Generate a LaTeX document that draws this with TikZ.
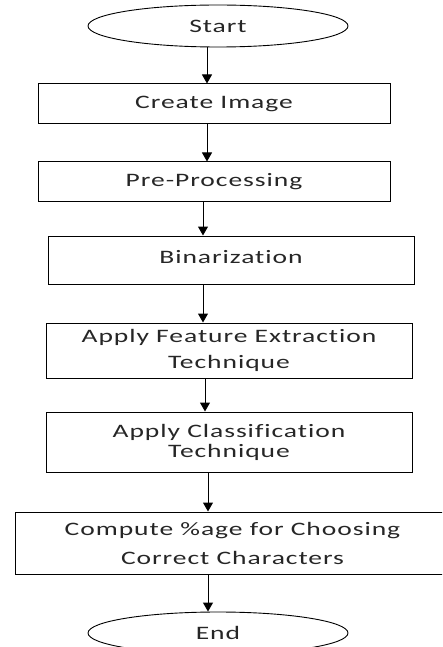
\documentclass[tikz,border=0pt]{standalone}
\usepackage{fontspec}
\setmainfont{Carlito}[FakeStretch=1.45, LetterSpace=5, Ligatures=NoCommon]
\usetikzlibrary{shapes.geometric, arrows.meta}

\begin{document}
\begin{tikzpicture}[x=1pt, y=-1pt,
        every node/.style={font=\fontsize{19}{24}\selectfont, align=center, text=black!85},
        term/.style={draw=black, ellipse, line width=0.9pt, minimum width=260pt, minimum height=42pt, inner sep=0pt},
        stepbox/.style={draw=black, rectangle, line width=1pt, inner sep=0pt},
        arr/.style={-{Triangle[width=10pt,length=9pt]}, line width=1pt}]
        \clip (0,0) rectangle (442,647);
        \node[term] (start) at (218,26) {Start};
        \node[stepbox, minimum width=352pt, minimum height=40pt] (create) at (214,104) {Create Image};
        \node[stepbox, minimum width=352pt, minimum height=39pt] (pre) at (214,181.5) {Pre-Processing};
        \node[stepbox, minimum width=366pt, minimum height=48pt] (bin) at (231,260) {\raisebox{7pt}{Binarization}};
        \node[stepbox, minimum width=366pt, minimum height=55pt] (feat) at (229,350.5) {Apply Feature Extraction\\[2pt] Technique};
        \node[stepbox, minimum width=366pt, minimum height=60pt] (class) at (229,442) {Apply Classification\\[-4pt] Technique};
        \node[stepbox, minimum width=435pt, minimum height=62pt] (compute) at (232.5,543) {Compute \%age for Choosing\\[5pt] Correct Characters};
        \node[term] (end) at (218,633) {End};
        \foreach \a/\b/\x in {start/create/207, create/pre/207, pre/bin/203, bin/feat/203,
                feat/class/205, class/compute/208, compute/end/208} {
            \draw[arr] (\a.south -| \x,0) -- (\b.north -| \x,0);
        }
    \end{tikzpicture}
\end{document}
